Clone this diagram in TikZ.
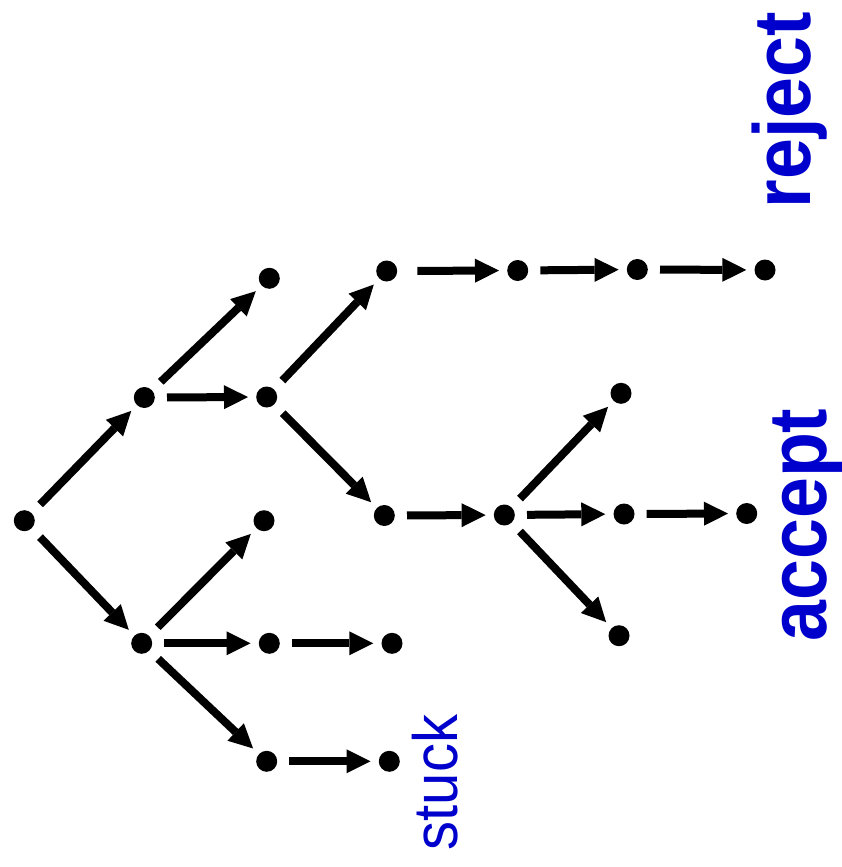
\documentclass[tikz,border=0pt]{standalone}
\usepackage{fontspec}
\setmainfont{Liberation Sans}
\usetikzlibrary{arrows.meta}
\definecolor{lblblue}{RGB}{0,0,204}
\tikzset{
  dot/.style={circle,fill=black,inner sep=0pt,minimum size=21pt},
  conn/.style={line width=8pt,-{Triangle[length=24pt,width=24pt,line width=0pt]},shorten <=12pt,shorten >=8pt},
  bigbl/.style={rotate=90,anchor=base,inner sep=0pt,text=lblblue,font=\fontsize{73.5pt}{80pt}\selectfont\bfseries},
  smallbl/.style={rotate=90,anchor=base,inner sep=0pt,text=lblblue,font=\fontsize{58pt}{64pt}\selectfont}
}
\begin{document}
\begin{tikzpicture}[x=1pt,y=-1pt]
\useasboundingbox (0,0) rectangle (842,867);
% nodes
\node[dot] (r) at (24.3,520.7) {};
\node[dot] (a) at (144.3,397.5) {};
\node[dot] (b) at (141.7,643.3) {};
\node[dot] (a1) at (269.3,278.3) {};
\node[dot] (a2) at (266.7,397.0) {};
\node[dot] (c1) at (386.7,271.0) {};
\node[dot] (c2) at (517.7,270.5) {};
\node[dot] (c3) at (637.3,269.5) {};
\node[dot] (c4) at (765,270.0) {};
\node[dot] (d1) at (384.3,515.5) {};
\node[dot] (d2) at (504.3,515.0) {};
\node[dot] (e1) at (621,393.3) {};
\node[dot] (e2) at (624,514.0) {};
\node[dot] (e3) at (619,635.7) {};
\node[dot] (e4) at (746.7,513.5) {};
\node[dot] (b1) at (264,520.7) {};
\node[dot] (b2) at (269.3,643.3) {};
\node[dot] (b3) at (392,643.3) {};
\node[dot] (b4) at (266.7,761.3) {};
\node[dot] (b5) at (389.3,761.3) {};
% connectors
\draw[conn] (r) -- (a);
\draw[conn] (r) -- (b);
\draw[conn] (a) -- (a1);
\draw[conn] (a) -- (a2);
\draw[conn] (a2) -- (c1);
\draw[conn,shorten <=20pt] (c1) -- (c2);
\draw[conn] (c2) -- (c3);
\draw[conn] (c3) -- (c4);
\draw[conn] (a2) -- (d1);
\draw[conn] (d1) -- (d2);
\draw[conn] (d2) -- (e1);
\draw[conn] (d2) -- (e2);
\draw[conn] (d2) -- (e3);
\draw[conn] (e2) -- (e4);
\draw[conn] (b) -- (b1);
\draw[conn] (b) -- (b2);
\draw[conn] (b2) -- (b3);
\draw[conn] (b) -- (b4);
\draw[conn] (b4) -- (b5);
% labels
\node[bigbl] (rej) at (810,110) {\scalebox{1}[1.1]{reject}};
\node[bigbl] (acc) at (826,525) {\scalebox{1}[1.12]{accept}};
\node[smallbl] (stk) at (457,782.5) {\scalebox{1}[1.08]{stuck}};
\end{tikzpicture}
\end{document}
